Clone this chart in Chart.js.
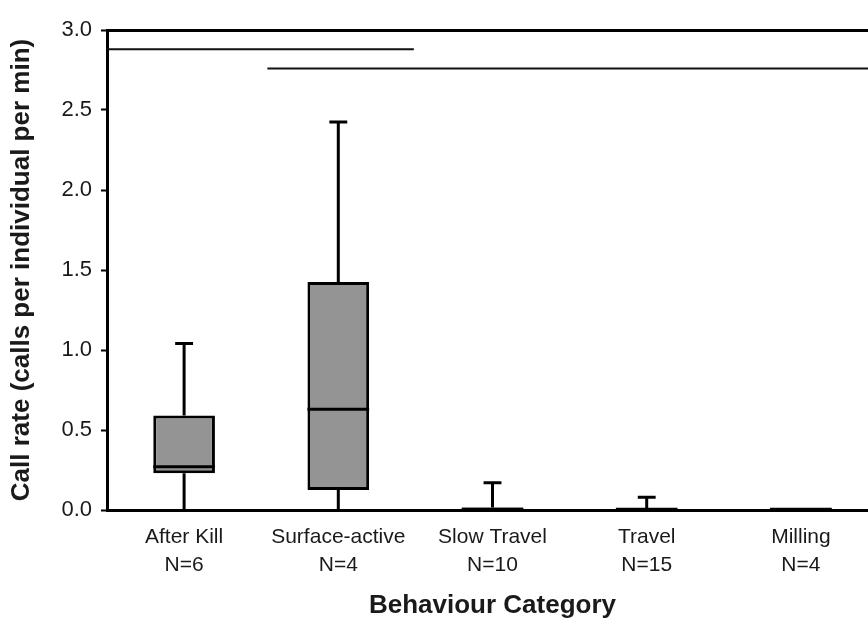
<!DOCTYPE html>
<html><head><meta charset="utf-8">
<script src="https://cdn.jsdelivr.net/npm/chart.js@4"></script>
<style>
html,body{margin:0;padding:0;background:#fff;overflow:hidden}
#wrap{width:868px;height:618px;overflow:hidden;position:relative}
canvas{display:block}
</style>
</head><body>
<div id="wrap"><canvas id="c" width="880" height="618"></canvas></div>
<script>
// ---- data ----
const categories = [['After Kill','N=6'],['Surface-active','N=4'],['Slow Travel','N=10'],['Travel','N=15'],['Milling','N=4']];
const whiskerLow  = [0, 0, 0, 0, 0];
const q1          = [0.23, 0.125, 0, 0, 0];
const median      = [0.27, 0.63, 0.005, 0.004, 0.005];
const q3          = [0.59, 1.425, 0.015, 0.012, 0.012];
const whiskerHigh = [1.04, 2.425, 0.17, 0.08, 0.012];
// significance bars (group span in category index units, value)
const sigFrom = [-0.5, 0.54];
const sigTo   = [1.49, 4.5];
const sigY    = [2.88, 2.76];
const yTicks  = [0, 0.5, 1.0, 1.5, 2.0, 2.5, 3.0];

const CAP = 0.058, HALF = 0.2;
const gap = {x: null, y: null};

const whiskerPts = [];
categories.forEach((c, i) => {
  if (whiskerHigh[i] > q3[i]) {
    whiskerPts.push({x: i, y: q3[i]}, {x: i, y: whiskerHigh[i]}, gap);
    whiskerPts.push({x: i - CAP, y: whiskerHigh[i]}, {x: i + CAP, y: whiskerHigh[i]}, gap);
  }
  if (q1[i] > whiskerLow[i]) {
    whiskerPts.push({x: i, y: q1[i]}, {x: i, y: whiskerLow[i]}, gap);
  }
});
const medianPts = [];
categories.forEach((c, i) => {
  medianPts.push({x: i - HALF, y: median[i]}, {x: i + HALF, y: median[i]}, gap);
});
const sigPts = [];
sigY.forEach((v, k) => { sigPts.push({x: sigFrom[k], y: v}, {x: sigTo[k], y: v}, gap); });

const FONT = "'Liberation Sans', Arial, sans-serif";

new Chart(document.getElementById('c'), {
  data: {
    labels: categories,
    datasets: [
      {
        type: 'bar',
        data: q1.map((v, i) => [v, q3[i]]),
        backgroundColor: '#949494',
        borderColor: '#000',
        borderWidth: 3,
        borderSkipped: false,
        grouped: false,
        barPercentage: 0.4,
        categoryPercentage: 1.0,
        order: 3
      },
      {
        type: 'line', xAxisID: 'x2', data: whiskerPts,
        borderColor: '#000', borderWidth: 3, pointRadius: 0, spanGaps: false, fill: false, order: 1
      },
      {
        type: 'line', xAxisID: 'x2', data: medianPts,
        borderColor: '#000', borderWidth: 3, pointRadius: 0, spanGaps: false, fill: false, order: 1
      },
      {
        type: 'line', xAxisID: 'x2', data: sigPts,
        borderColor: '#111', borderWidth: 2, pointRadius: 0, spanGaps: false, fill: false, order: 1
      }
    ]
  },
  options: {
    responsive: false,
    animation: false,
    events: [],
    layout: { padding: { left: 0, top: 30, right: 2, bottom: 0 } },
    plugins: { legend: { display: false }, tooltip: { enabled: false } },
    scales: {
      x: {
        type: 'category',
        offset: true,
        grid: { display: false, drawTicks: false },
        border: { display: true, color: '#000', width: 3 },
        ticks: { color: '#1a1a1a', font: { family: FONT, size: 21, lineHeight: 1.3 }, padding: 14, maxRotation: 0, autoSkip: false },
        title: { display: true, text: 'Behaviour Category', color: '#1a1a1a',
                 font: { family: FONT, size: 26, weight: 'bold' }, padding: { top: 0, bottom: -3 } },
        afterFit: s => { s.height = 108; }
      },
      x2: { type: 'linear', min: -0.5, max: 4.5, display: false },
      y: {
        min: 0, max: 3,
        afterBuildTicks: s => { s.ticks = yTicks.map(v => ({value: v})); },
        grid: {
          color: c => (c.tick && c.tick.value === 3) ? '#000' : 'rgba(0,0,0,0)',
          lineWidth: 3, tickColor: '#000', tickLength: 6, tickWidth: 2
        },
        border: { display: true, color: '#000', width: 3 },
        ticks: { color: '#1a1a1a', font: { family: FONT, size: 22 }, padding: 9,
                 callback: v => Number(v).toFixed(1) },
        title: { display: true, text: 'Call rate (calls per individual per min)', color: '#1a1a1a',
                 font: { family: FONT, size: 26, weight: 'bold' }, padding: { top: 6, bottom: 0 } },
        afterFit: s => { s.width = 107; }
      }
    }
  }
});
</script>
</body></html>
